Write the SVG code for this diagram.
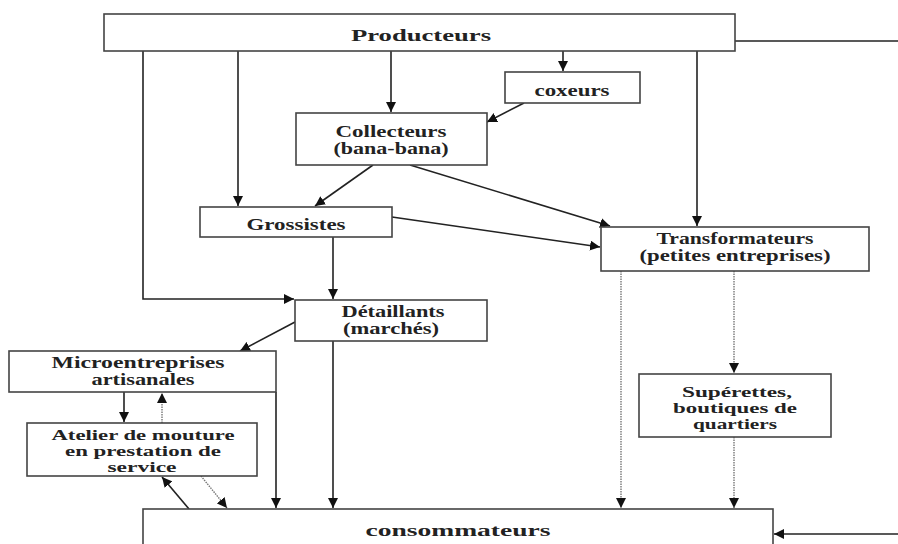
<svg xmlns="http://www.w3.org/2000/svg" width="898" height="544" viewBox="0 0 898 544">
<style>
.box{fill:#fff;stroke:#444;stroke-width:1.6}
.t{font-family:"Liberation Serif","Times New Roman",serif;font-weight:bold;font-size:16px;fill:#222}
.s{font-size:14.5px}
.c{fill:none;stroke:#222;stroke-width:1.6}
.d{fill:none;stroke:#777;stroke-width:1.4;stroke-dasharray:1.5 1}
</style>
<defs>
<marker id="a" markerUnits="userSpaceOnUse" markerWidth="11" markerHeight="10" refX="10" refY="5" orient="auto"><path d="M0,0 L10,5 L0,10 z" fill="#111"/></marker>
</defs>
<rect width="898" height="544" fill="#fff"/>
<g id="connectors">
<polyline class="c" points="143,51 143,299 294,299" marker-end="url(#a)"/>
<line class="c" x1="238" y1="51" x2="238" y2="206" marker-end="url(#a)"/>
<line class="c" x1="391" y1="51" x2="391" y2="112" marker-end="url(#a)"/>
<line class="c" x1="563" y1="51" x2="563" y2="71" marker-end="url(#a)"/>
<line class="c" x1="697" y1="51" x2="697" y2="226" marker-end="url(#a)"/>
<line class="c" x1="735" y1="41" x2="898" y2="41"/>
<line class="c" x1="524" y1="103" x2="487" y2="122" marker-end="url(#a)"/>
<line class="c" x1="373" y1="165" x2="315" y2="206" marker-end="url(#a)"/>
<line class="c" x1="410" y1="165" x2="610" y2="226" marker-end="url(#a)"/>
<line class="c" x1="392" y1="217" x2="600" y2="247" marker-end="url(#a)"/>
<line class="c" x1="333" y1="237" x2="333" y2="299" marker-end="url(#a)"/>
<line class="c" x1="295" y1="322" x2="240" y2="351" marker-end="url(#a)"/>
<line class="c" x1="276" y1="392" x2="276" y2="508" marker-end="url(#a)"/>
<line class="c" x1="333" y1="341" x2="333" y2="508" marker-end="url(#a)"/>
<line class="c" x1="124" y1="392" x2="124" y2="422" marker-end="url(#a)"/>
<line class="d" x1="162" y1="423" x2="162" y2="393" marker-end="url(#a)"/>
<line class="c" x1="189" y1="509" x2="162" y2="477" marker-end="url(#a)"/>
<line class="d" x1="201" y1="476" x2="227" y2="508" marker-end="url(#a)"/>
<line class="d" x1="621" y1="271" x2="621" y2="508" marker-end="url(#a)"/>
<line class="d" x1="734" y1="271" x2="734" y2="373" marker-end="url(#a)"/>
<line class="d" x1="734" y1="437" x2="734" y2="508" marker-end="url(#a)"/>
<line class="c" x1="898" y1="534" x2="774" y2="534" marker-end="url(#a)"/>
</g>
<g id="producteurs"><rect class="box" x="104" y="14" width="631" height="37"/><text class="t" x="421" y="41" text-anchor="middle" textLength="140" lengthAdjust="spacingAndGlyphs">Producteurs</text></g>
<g id="coxeurs"><rect class="box" x="505" y="72" width="135" height="31"/><text class="t" x="572" y="96" text-anchor="middle" textLength="75" lengthAdjust="spacingAndGlyphs">coxeurs</text></g>
<g id="collecteurs"><rect class="box" x="296" y="113" width="191" height="52"/><text class="t" x="391" y="137" text-anchor="middle" textLength="111" lengthAdjust="spacingAndGlyphs">Collecteurs</text><text class="t" x="391" y="154" text-anchor="middle" textLength="115" lengthAdjust="spacingAndGlyphs">(bana-bana)</text></g>
<g id="grossistes"><rect class="box" x="200" y="207" width="192" height="30"/><text class="t" x="296" y="230" text-anchor="middle" textLength="99" lengthAdjust="spacingAndGlyphs">Grossistes</text></g>
<g id="transformateurs"><rect class="box" x="601" y="227" width="268" height="44"/><text class="t" x="735" y="244" text-anchor="middle" textLength="157" lengthAdjust="spacingAndGlyphs">Transformateurs</text><text class="t" x="735" y="261" text-anchor="middle" textLength="191" lengthAdjust="spacingAndGlyphs">(petites entreprises)</text></g>
<g id="detaillants"><rect class="box" x="295" y="300" width="192" height="41"/><text class="t" x="393" y="317" text-anchor="middle" textLength="103" lengthAdjust="spacingAndGlyphs">Détaillants</text><text class="t" x="391" y="334" text-anchor="middle" textLength="96" lengthAdjust="spacingAndGlyphs">(marchés)</text></g>
<g id="microentreprises"><rect class="box" x="9" y="351" width="267" height="41"/><text class="t" x="138" y="368" text-anchor="middle" textLength="173" lengthAdjust="spacingAndGlyphs">Microentreprises</text><text class="t" x="143" y="385" text-anchor="middle" textLength="103" lengthAdjust="spacingAndGlyphs">artisanales</text></g>
<g id="atelier"><rect class="box" x="27" y="423" width="230" height="53"/><text class="t s" x="143" y="440" text-anchor="middle" textLength="183" lengthAdjust="spacingAndGlyphs">Atelier de mouture</text><text class="t s" x="143" y="456" text-anchor="middle" textLength="156" lengthAdjust="spacingAndGlyphs">en prestation de</text><text class="t s" x="142" y="472" text-anchor="middle" textLength="69" lengthAdjust="spacingAndGlyphs">service</text></g>
<g id="superettes"><rect class="box" x="639" y="374" width="192" height="63"/><text class="t s" x="737" y="397" text-anchor="middle" textLength="110" lengthAdjust="spacingAndGlyphs">Supérettes,</text><text class="t s" x="735" y="413" text-anchor="middle" textLength="124" lengthAdjust="spacingAndGlyphs">boutiques de</text><text class="t s" x="735" y="429" text-anchor="middle" textLength="84" lengthAdjust="spacingAndGlyphs">quartiers</text></g>
<g id="consommateurs"><rect class="box" x="143" y="509" width="630" height="60"/><text class="t" x="458" y="536" text-anchor="middle" textLength="185" lengthAdjust="spacingAndGlyphs">consommateurs</text></g>
</svg>
